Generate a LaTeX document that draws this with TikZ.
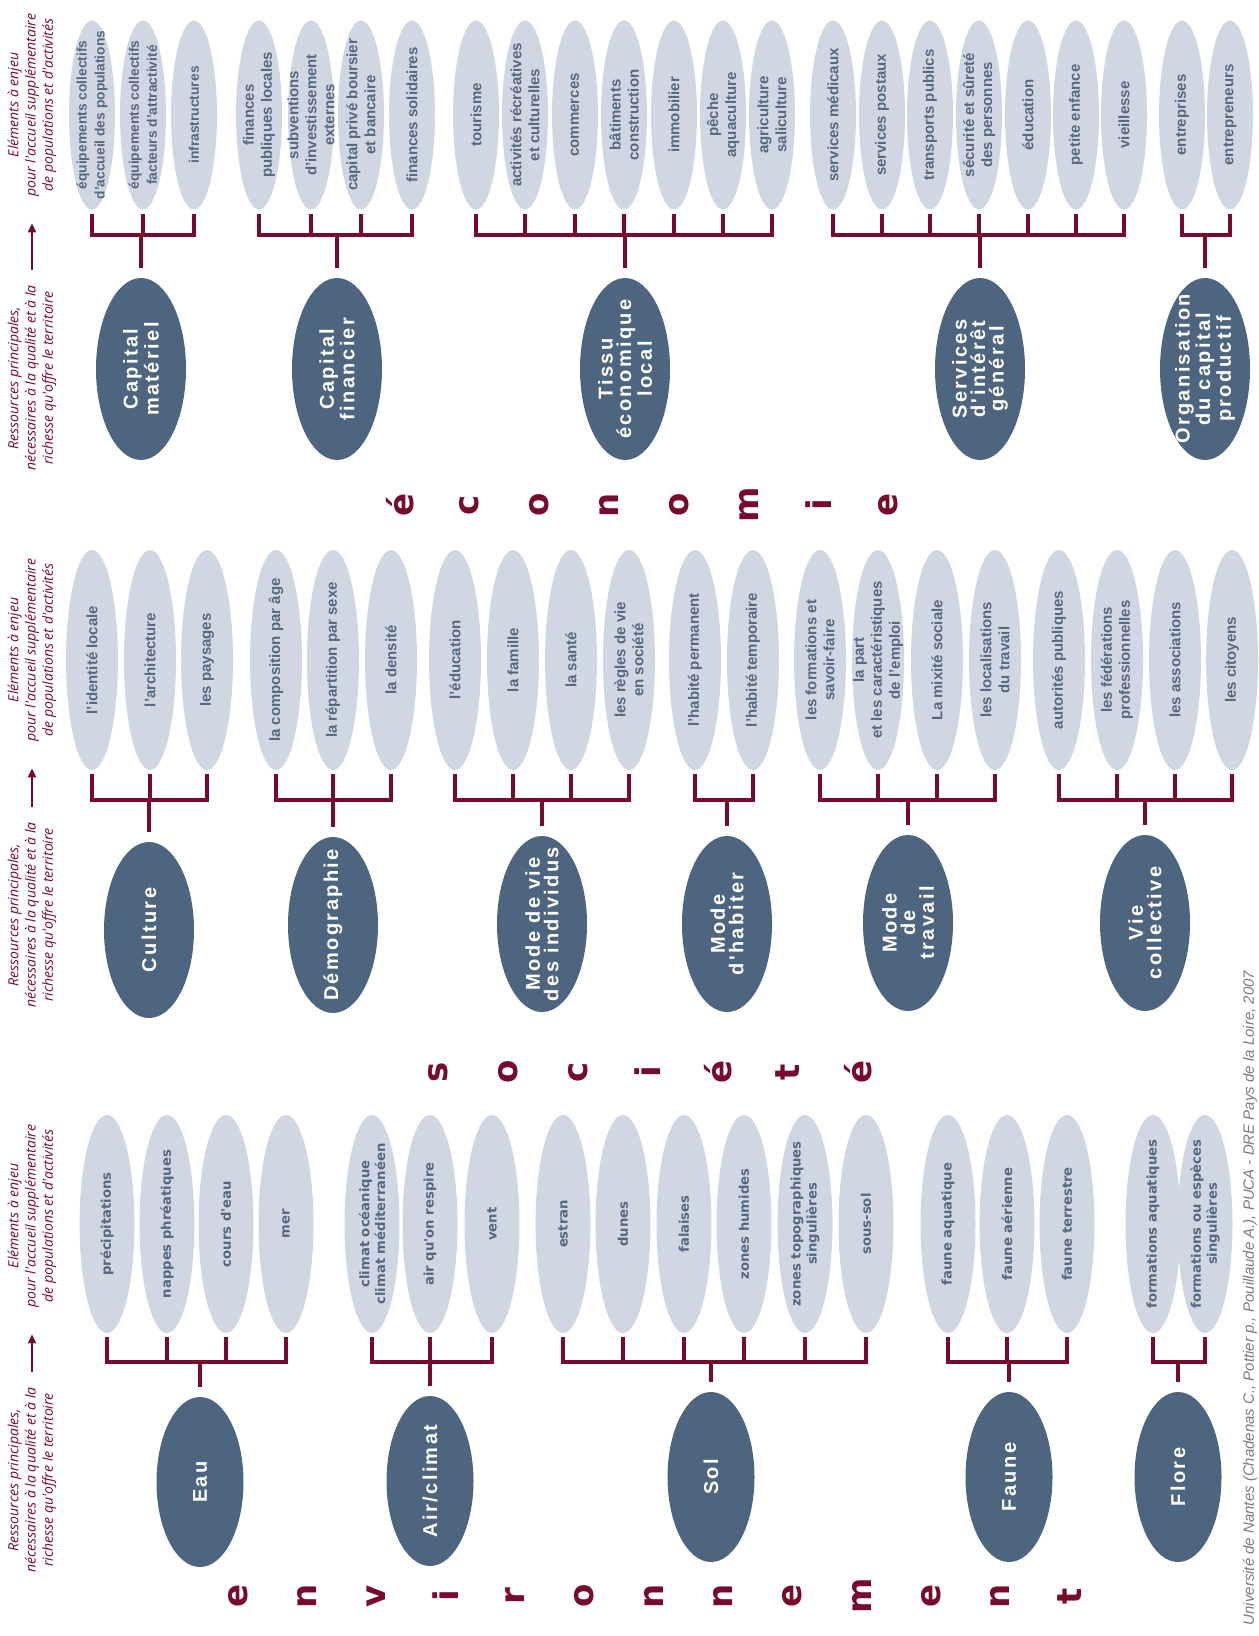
\documentclass[tikz,border=0pt]{standalone}
\usepackage{fontspec}
\setmainfont{Liberation Sans}
\newfontfamily\vera{DejaVu Sans}
\newfontfamily\titres[LetterSpace=12]{Liberation Sans}
\newfontfamily\notes{Open Sans}
\usetikzlibrary{shapes.geometric,arrows.meta}

\definecolor{ardoise}{HTML}{4E6580}
\definecolor{brume}{HTML}{D0D6E2}
\definecolor{bordeaux}{HTML}{780A2C}
\definecolor{grisbleu}{HTML}{56687F}
\definecolor{grissource}{HTML}{7A7A7A}

\tikzset{
  bulle/.style={ellipse, fill=brume, rotate=90, inner sep=-10pt, text=grisbleu, align=center,
    font=\bfseries\fontsize{7.5}{9}\selectfont},
  bulleE/.style={bulle, minimum width=94.5pt, minimum height=23pt},
  bulleS/.style={bulle, minimum width=110pt, minimum height=26pt},
  bulleN/.style={bulle, minimum width=109pt, minimum height=27.5pt,
    font=\vera\bfseries\fontsize{6.6}{7.9}\selectfont},
  pole/.style={ellipse, fill=ardoise, rotate=90, inner sep=-10pt, text=white, align=center,
    font=\titres\bfseries\fontsize{10}{9.3}\selectfont},
  poleE/.style={pole, minimum width=91pt, minimum height=45pt},
  poleS/.style={pole, minimum width=88pt, minimum height=45pt},
  poleN/.style={pole, minimum width=85pt, minimum height=43.5pt},
  crochet/.style={draw=bordeaux, line width=1.6pt},
  note/.style={rotate=90, align=center, text=bordeaux, font=\notes\itshape\fontsize{7}{8.6}\selectfont},
  fleche/.style={draw=bordeaux, line width=1pt, -{Triangle[length=4.5pt,width=4pt]},
    shorten <=4pt, shorten >=10pt},
  lettre/.style={rotate=90, text=bordeaux, font=\vera\bfseries\fontsize{17}{17}\selectfont},
}

% accolade : #1 prefixe des bulles, #2 nombre, #3 pole, #4 barre
\newcommand{\accolade}[4]{%
  \draw[crochet] ([yshift=-2pt]#11.west) -- (#11.west |- #4) -- (#1#2.west |- #4) -- ([yshift=-2pt]#1#2.west);
  \foreach \k in {1,...,#2} \draw[crochet] ([yshift=-2pt]#1\k.west) -- (#1\k.west |- #4);
  \draw[crochet] (#3.east |- #4) -- ([yshift=5pt]#3.east);
}

\begin{document}
\begin{tikzpicture}[x=0.5pt, y=0.5pt]
  \useasboundingbox (0,0) rectangle (1258,-1636);
  \coordinate (barreE) at (0,-235);
  \coordinate (barreS) at (0,-800);
  \coordinate (barreN) at (0,-1362);

  % ---------- économie ----------
  \node[note] (elemE) at (32,-105) {Eléments à enjeu\\pour l'accueil supplémentaire\\de populations et d'activités};
  \node[note] (ressE) at (32,-378) {Ressources principales,\\nécessaires à la qualité et à la\\richesse qu'offre le territoire};
  \draw[fleche] (ressE.east) -- (elemE.west);

  % capital matériel
  \foreach \x/\t [count=\i] in {92/{équipements collectifs\\d'accueil des populations},
      143/{équipements collectifs\\facteurs d'attractivité}, 194/infrastructures}
    \node[bulleE, font=\bfseries\fontsize{6.9}{9}\selectfont] (cm\i) at (\x,-115) {\t};
  \node[poleE] (cm) at (141,-369) {Capital\\matériel};
  \accolade{cm}{3}{cm}{barreE}

  % capital financier
  \foreach \x/\t [count=\i] in {259/{finances\\publiques locales}, 311/{subventions\\d'investissement\\externes},
      361/{capital privé boursier\\et bancaire}, 412/finances solidaires}
    \node[bulleE] (cf\i) at (\x,-115) {\t};
  \node[poleE] (cf) at (337,-369) {Capital\\financier};
  \accolade{cf}{4}{cf}{barreE}

  % tissu économique local
  \foreach \x/\t [count=\i] in {476/tourisme, 525/{activités récréatives\\et culturelles}, 575/commerces,
      624/{bâtiments\\construction}, 674/immobilier, 723/{pêche\\aquaculture}, 772/{agriculture\\saliculture}}
    \node[bulleE] (te\i) at (\x,-115) {\t};
  \node[poleE] (te) at (625,-369) {Tissu\\économique\\local};
  \accolade{te}{7}{te}{barreE}

  % services d'intérêt général
  \foreach \x/\t [count=\i] in {833/services médicaux, 882/services postaux, 930/transports publics,
      979/{sécurité et sûreté\\des personnes}, 1028/éducation, 1076/petite enfance, 1124/vieillesse}
    \node[bulleE] (sg\i) at (\x,-115) {\t};
  \node[poleE] (sg) at (980,-369) {Services\\d'intérêt\\général};
  \accolade{sg}{7}{sg}{barreE}

  % organisation du capital productif
  \foreach \x/\t [count=\i] in {1182/entreprises, 1230/entrepreneurs}
    \node[bulleE] (oc\i) at (\x,-115) {\t};
  \node[poleE] (oc) at (1205,-369) {Organisation\\du capital\\productif};
  \accolade{oc}{2}{oc}{barreE}

  \foreach \ch [count=\i] in {é,c,o,n,o,m,i,e}
    \node[lettre] (eco\i) at ({400+69.7*(\i-1)},-505) {\ch};

  % ---------- société ----------
  \node[note] (elemS) at (32,-650) {Eléments à enjeu\\pour l'accueil supplémentaire\\de populations et d'activités};
  \node[note] (ressS) at (32,-915) {Ressources principales,\\nécessaires à la qualité et à la\\richesse qu'offre le territoire};
  \draw[fleche] (ressS.east) -- (elemS.west);

  % culture
  \foreach \x/\t [count=\i] in {92/l'identité locale, 150/l'architecture, 207/les paysages}
    \node[bulleS] (cu\i) at (\x,-660) {\t};
  \node[poleS] (cu) at (149,-930) {Culture};
  \accolade{cu}{3}{cu}{barreS}

  % démographie
  \foreach \x/\t [count=\i] in {276/la composition par âge, 333/la répartition par sexe, 391/la densité}
    \node[bulleS] (dm\i) at (\x,-660) {\t};
  \node[poleS] (dm) at (333,-925) {Démographie};
  \accolade{dm}{3}{dm}{barreS}

  % mode de vie
  \foreach \x/\t [count=\i] in {455/l'éducation, 513/la famille, 571/la santé, 629/{les règles de vie\\en société}}
    \node[bulleS] (mv\i) at (\x,-660) {\t};
  \node[poleS] (mv) at (542,-924) {Mode de vie\\des individus};
  \accolade{mv}{4}{mv}{barreS}

  % mode d'habiter
  \foreach \x/\t [count=\i] in {695/l'habité permanent, 753/l'habité temporaire}
    \node[bulleS] (mh\i) at (\x,-660) {\t};
  \node[poleS] (mh) at (727,-924) {Mode\\d'habiter};
  \accolade{mh}{2}{mh}{barreS}

  % mode de travail
  \foreach \x/\t [count=\i] in {820/{les formations et\\savoir-faire}, 878/{la part\\et les caractéristiques\\de l'emploi},
      937/La mixité sociale, 995/{les localisations\\du travail}}
    \node[bulleS] (mt\i) at (\x,-660) {\t};
  \node[poleS] (mt) at (908,-923) {Mode\\de\\travail};
  \accolade{mt}{4}{mt}{barreS}

  % vie collective
  \foreach \x/\t [count=\i] in {1059/autorités publiques, 1117/{les fédérations\\professionnelles},
      1175/les associations, 1232/les citoyens}
    \node[bulleS] (vc\i) at (\x,-660) {\t};
  \node[poleS] (vc) at (1145,-923) {Vie\\collective};
  \accolade{vc}{4}{vc}{barreS}

  \foreach \ch [count=\i] in {s,o,c,i,é,t,é}
    \node[lettre] (soc\i) at ({438+70*(\i-1)},-1072) {\ch};

  % ---------- environnement ----------
  \node[note] (elemN) at (32,-1216) {Eléments à enjeu\\pour l'accueil supplémentaire\\de populations et d'activités};
  \node[note] (ressN) at (32,-1480) {Ressources principales,\\nécessaires à la qualité et à la\\richesse qu'offre le territoire};
  \draw[fleche] (ressN.east) -- (elemN.west);

  % eau
  \foreach \x/\t [count=\i] in {107/précipitations, 167/nappes phréatiques, 226/cours d'eau, 286/mer}
    \node[bulleN] (ea\i) at (\x,-1224) {\t};
  \node[poleN] (ea) at (200,-1482) {Eau};
  \accolade{ea}{4}{ea}{barreN}

  % air / climat
  \foreach \x/\t [count=\i] in {372/{climat océanique\\climat méditerranéen}, 430/air qu'on respire, 492/vent}
    \node[bulleN] (ac\i) at (\x,-1224) {\t};
  \node[poleN] (ac) at (430,-1481) {Air/climat};
  \accolade{ac}{3}{ac}{barreN}

  % sol
  \foreach \x/\t [count=\i] in {563/estran, 623/dunes, 684/falaises, 744/zones humides,
      805/{zones topographiques\\singulières}, 866/sous-sol}
    \node[bulleN] (so\i) at (\x,-1224) {\t};
  \node[poleN] (so) at (711,-1477) {Sol};
  \accolade{so}{6}{so}{barreN}

  % faune
  \foreach \x/\t [count=\i] in {948/faune aquatique, 1007/faune aérienne, 1067/faune terrestre}
    \node[bulleN] (fa\i) at (\x,-1224) {\t};
  \node[poleN] (fa) at (1009,-1477) {Faune};
  \accolade{fa}{3}{fa}{barreN}

  % flore
  \foreach \x/\t [count=\i] in {1153/formations aquatiques, 1205/{formations ou espèces\\singulières}}
    \node[bulleN] (fl\i) at (\x,-1224) {\t};
  \node[poleN] (fl) at (1178,-1477) {Flore};
  \accolade{fl}{2}{fl}{barreN}

  \foreach \ch [count=\i] in {e,n,v,i,r,o,n,n,e,m,e,n,t}
    \node[lettre] (env\i) at ({238+69.3*(\i-1)},-1596) {\ch};

  % source
  \node[rotate=90, text=grissource, font=\itshape\fontsize{7.5}{8}\selectfont] (src) at (1250,-1298)
    {Université de Nantes (Chadenas C., Pottier p., Pouillaude A.), PUCA - DRE Pays de la Loire, 2007};
\end{tikzpicture}
\end{document}
